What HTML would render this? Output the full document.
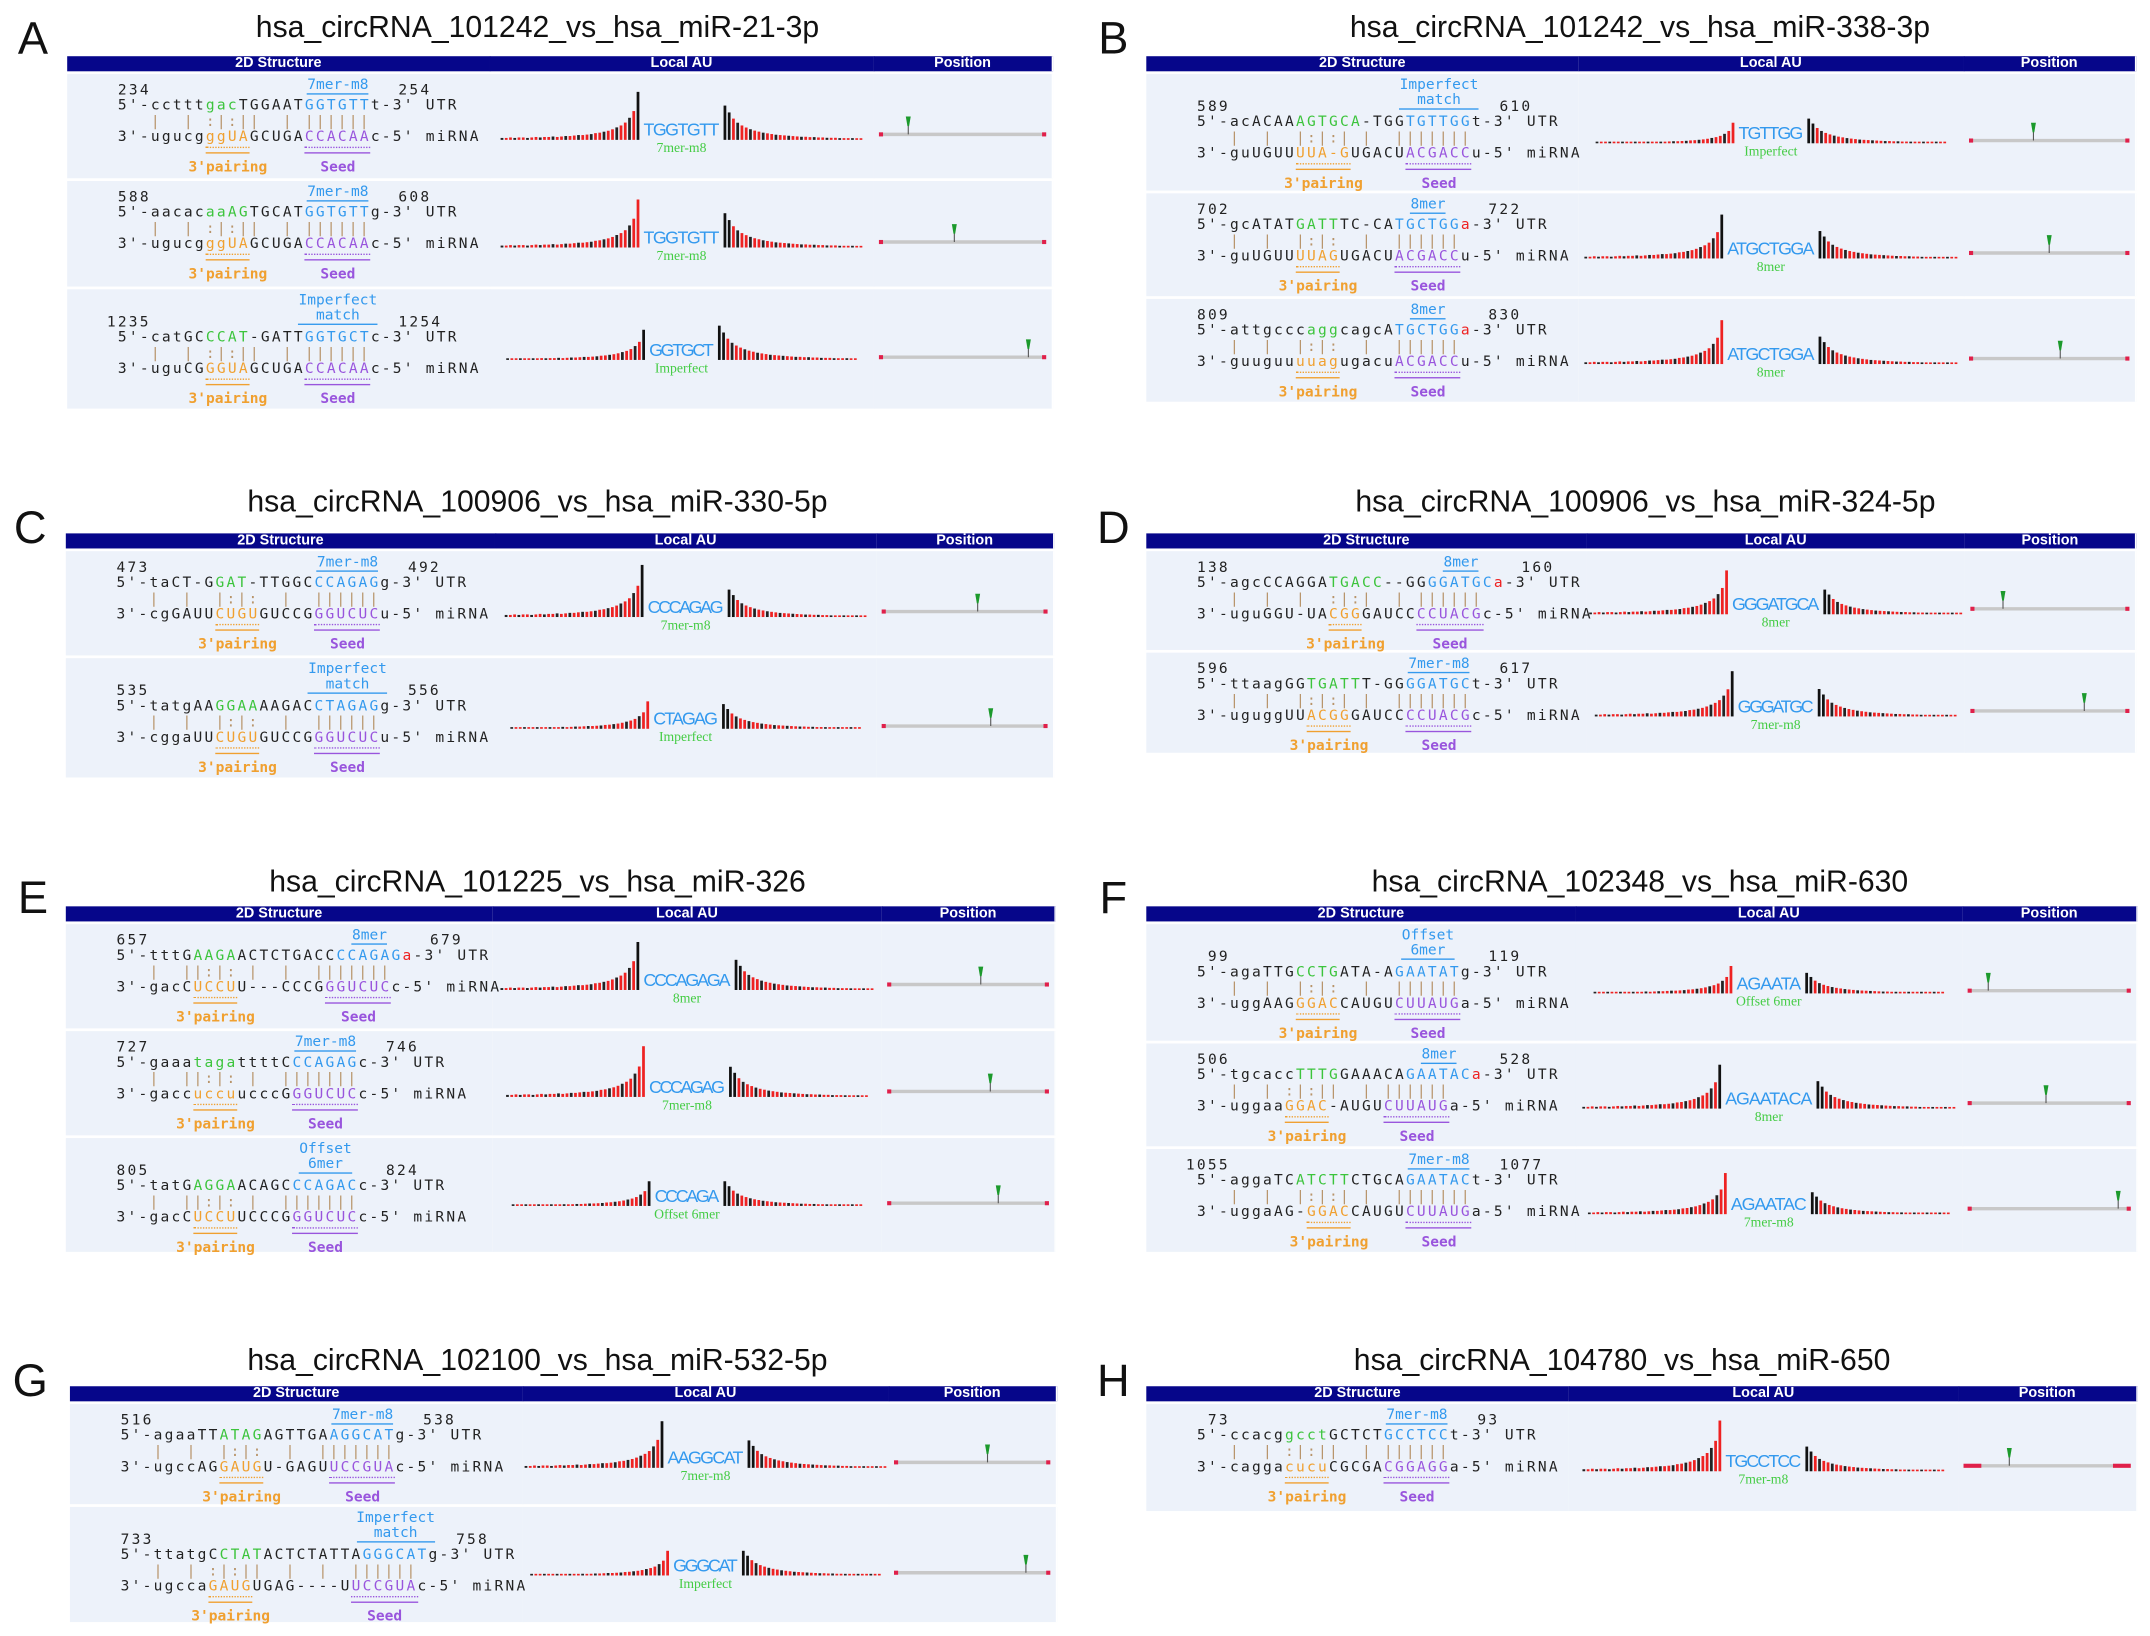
<!DOCTYPE html>
<html><head><meta charset="utf-8">
<style>
html,body{margin:0;padding:0;background:#fff;width:2150px;height:1636px;overflow:hidden}
#root{position:absolute;left:0;top:0;width:1568px;height:1193px;transform:scale(1.37117);transform-origin:0 0}
.abs{position:absolute}
.title{font-family:"Liberation Sans",sans-serif;font-size:22px;color:#111;white-space:nowrap;transform:translate(-50%,-50%)}
.letter{font-family:"Liberation Sans",sans-serif;font-size:33px;color:#111;transform:translate(-50%,-50%)}
.hdr{background:#06068a;color:#fff;font-family:"Liberation Sans",sans-serif;font-weight:bold;font-size:10.5px;text-align:center;line-height:11px;height:11px;border-right:1px solid #fff;box-sizing:border-box}
.cell{background:#edf2fa;border-right:1px solid #fff;box-sizing:border-box}
.seq{font-family:"DejaVu Sans Mono","Liberation Mono",monospace;font-size:10.6px;letter-spacing:1.64px;white-space:pre;color:#222;line-height:11px}
.lbl{font-family:"DejaVu Sans Mono",monospace;font-size:10.6px;white-space:pre;line-height:11px;transform:translateX(-50%);font-weight:bold}
.g{color:#3cc43c}.b{color:#3399ee}.o{color:#f0a030}.p{color:#9955dd}.r{color:#ee2222}
</style></head><body>
<div id="root"></div>
<script>
// ---- data ----
const panelLetters=["A","B","C","D","E","F","G","H"];
const panelTitles=["hsa_circRNA_101242_vs_hsa_miR-21-3p","hsa_circRNA_101242_vs_hsa_miR-338-3p","hsa_circRNA_100906_vs_hsa_miR-330-5p","hsa_circRNA_100906_vs_hsa_miR-324-5p","hsa_circRNA_101225_vs_hsa_miR-326","hsa_circRNA_102348_vs_hsa_miR-630","hsa_circRNA_102100_vs_hsa_miR-532-5p","hsa_circRNA_104780_vs_hsa_miR-650"];
const siteStart=[[234,588,1235],[589,702,809],[473,535],[138,596],[657,727,805],[99,506,1055],[516,733],[73]];
const siteEnd=[[254,608,1254],[610,722,830],[492,556],[160,617],[679,746,824],[119,528,1077],[538,758],[93]];
const siteType=[["7mer-m8","7mer-m8","Imperfect match"],["Imperfect match","8mer","8mer"],["7mer-m8","Imperfect match"],["8mer","7mer-m8"],["8mer","7mer-m8","Offset 6mer"],["Offset 6mer","8mer","7mer-m8"],["7mer-m8","Imperfect match"],["7mer-m8"]];
const utrSeq=[["5'-ccttt[g:gac]TGGAAT[b:GGTGTT]t-3' UTR","5'-aacac[g:aaAG]TGCAT[b:GGTGTT]g-3' UTR","5'-catGC[g:CCAT]-GATT[b:GGTGCT]c-3' UTR"],
["5'-acACAA[g:AGTGCA]-TGG[b:TGTTGG]t-3' UTR","5'-gcATAT[g:GATT]TC-CA[b:TGCTGG][r:a]-3' UTR","5'-attgccc[g:agg]cagcA[b:TGCTGG][r:a]-3' UTR"],
["5'-taCT-G[g:GAT]-TTGGC[b:CCAGAG]g-3' UTR","5'-tatgAA[g:GGAA]AAGAC[b:CTAGAG]g-3' UTR"],
["5'-agcCCAGGA[g:TGACC]--GG[b:GGATGC][r:a]-3' UTR","5'-ttaagGG[g:TGATT]T-GG[b:GGATGC]t-3' UTR"],
["5'-tttG[g:AAGA]ACTCTGACC[b:CCAGAG][r:a]-3' UTR","5'-gaaa[g:taga]ttttC[b:CCAGAG]c-3' UTR","5'-tatG[g:AGGA]ACAGC[b:CCAGAC]c-3' UTR"],
["5'-agaTTG[g:CCTG]ATA-A[b:GAATAT]g-3' UTR","5'-tgcacc[g:TTTG]GAAACA[b:GAATAC][r:a]-3' UTR","5'-aggaTC[g:ATCTT]CTGCA[b:GAATAC]t-3' UTR"],
["5'-agaaTT[g:ATAG]AGTTGA[b:AGGCAT]g-3' UTR","5'-ttatgC[g:CTAT]ACTCTATTA[b:GGGCAT]g-3' UTR"],
["5'-ccacg[g:gcct]GCTCT[b:GCCTCC]t-3' UTR"]];
const mirSeq=[["3'-ugucg[o:ggUA]GCUGA[p:CCACAA]c-5' miRNA","3'-ugucg[o:ggUA]GCUGA[p:CCACAA]c-5' miRNA","3'-uguCG[o:GGUA]GCUGA[p:CCACAA]c-5' miRNA"],
["3'-guUGUU[o:UUA-G]UGACU[p:ACGACC]u-5' miRNA","3'-guUGUU[o:UUAG]UGACU[p:ACGACC]u-5' miRNA","3'-guuguu[o:uuag]ugacu[p:ACGACC]u-5' miRNA"],
["3'-cgGAUU[o:CUGU]GUCCG[p:GGUCUC]u-5' miRNA","3'-cggaUU[o:CUGU]GUCCG[p:GGUCUC]u-5' miRNA"],
["3'-uguGGU-UA[o:CGG]GAUCC[p:CCUACG]c-5' miRNA","3'-uguggUU[o:ACGG]GAUCC[p:CCUACG]c-5' miRNA"],
["3'-gacC[o:UCCU]U---CCCG[p:GGUCUC]c-5' miRNA","3'-gacc[o:uccu]ucccG[p:GGUCUC]c-5' miRNA","3'-gacC[o:UCCU]UCCCG[p:GGUCUC]c-5' miRNA"],
["3'-uggAAG[o:GGAC]CAUGU[p:CUUAUG]a-5' miRNA","3'-uggaa[o:GGAC]-AUGU[p:CUUAUG]a-5' miRNA","3'-uggaAG-[o:GGAC]CAUGU[p:CUUAUG]a-5' miRNA"],
["3'-ugccAG[o:GAUG]U-GAGU[p:UCCGUA]c-5' miRNA","3'-ugcca[o:GAUG]UGAG----U[p:UCCGUA]c-5' miRNA"],
["3'-cagga[o:cucu]CGCGA[p:CGGAGG]a-5' miRNA"]];
const seedText=[["TGGTGTT","TGGTGTT","GGTGCT"],["TGTTGG","ATGCTGGA","ATGCTGGA"],["CCCAGAG","CTAGAG"],["GGGATGCA","GGGATGC"],["CCCAGAGA","CCCAGAG","CCCAGA"],["AGAATA","AGAATACA","AGAATAC"],["AAGGCAT","GGGCAT"],["TGCCTCC"]];
const auType=[["7mer-m8","7mer-m8","Imperfect"],["Imperfect","8mer","8mer"],["7mer-m8","Imperfect"],["8mer","7mer-m8"],["8mer","7mer-m8","Offset 6mer"],["Offset 6mer","8mer","7mer-m8"],["7mer-m8","Imperfect"],["7mer-m8"]];
const leftPeak=[[35,35,22],[15,32,32],[38,20],[32,33],[35,37,18],[20,32,30],[34,18],[37]];
const rightPeak=[[25,25,25],[18,20,20],[20,18],[18,20],[22,22,18],[15,20,16],[20,18],[18]];
const sitePos=[[0.17,0.45,0.9],[0.4,0.5,0.57],[0.58,0.66],[0.2,0.72],[0.58,0.64,0.69],[0.12,0.48,0.93],[0.6,0.85],[0.27]];
const leftShape=[.04,.04,.05,.04,.05,.05,.04,.05,.06,.05,.06,.06,.07,.06,.07,.08,.08,.09,.1,.1,.11,.12,.14,.15,.17,.19,.22,.26,.3,.36,.46,.6,1];
const rightShape=[1,.8,.62,.5,.42,.36,.31,.27,.24,.21,.19,.17,.15,.14,.13,.12,.11,.1,.09,.09,.08,.08,.07,.07,.06,.06,.06,.05,.05,.05,.05,.04,.04];
const L=[
 {lx:24,ly:28,tx:392,ty:20,x0:49,x1:767,hy:41,c:[357,637],rows:[[54,130],[132,209],[211,298]]},
 {lx:812,ly:28,tx:1196,ty:20,x0:836,x1:1557,hy:41,c:[1151,1432],rows:[[54,139],[141,216],[218,293]]},
 {lx:22,ly:385,tx:392,ty:366,x0:48,x1:768,hy:389,c:[361,639],rows:[[402,478],[480,567]]},
 {lx:812,ly:385,tx:1200,ty:366,x0:836,x1:1557,hy:389,c:[1157,1433],rows:[[402,474],[476,549]]},
 {lx:24,ly:655,tx:392,ty:643,x0:48,x1:769,hy:661,c:[359,643],rows:[[674,750],[752,828],[830,913]]},
 {lx:812,ly:655,tx:1196,ty:643,x0:836,x1:1558,hy:661,c:[1149,1431],rows:[[674,759],[761,836],[838,913]]},
 {lx:22,ly:1007,tx:392,ty:992,x0:51,x1:770,hy:1011,c:[381,648],rows:[[1024,1097],[1099,1183]]},
 {lx:812,ly:1007,tx:1183,ty:992,x0:836,x1:1558,hy:1011,c:[1144,1428],rows:[[1024,1102]]}
];
const root=document.getElementById('root');
function mk(tag,cls,css,parent){const e=document.createElement(tag);if(cls)e.className=cls;if(css)e.style.cssText=css;(parent||root).appendChild(e);return e;}
const CW=8.02;
function parse(s){let idx=0;const segs={};
 const re=/\[(\w):([^\]]*)\]/g;let last=0,m;let html='';
 while((m=re.exec(s))){html+=esc(s.slice(last,m.index));idx+=m.index-last;segs[m[1]]=[idx,idx+m[2].length];html+='<span class="'+m[1]+'">'+esc(m[2])+'</span>';idx+=m[2].length;last=re.lastIndex;}
 html+=esc(s.slice(last));return {html,segs};}
function esc(t){return t.replace(/&/g,'&amp;').replace(/</g,'&lt;');}
const SVGNS='http://www.w3.org/2000/svg';
function sv(tag,attrs,parent){const e=document.createElementNS(SVGNS,tag);for(const k in attrs)e.setAttribute(k,attrs[k]);parent.appendChild(e);return e;}

L.forEach((P,pi)=>{
 const let_=mk('div','abs letter','left:'+P.lx+'px;top:'+P.ly+'px');let_.textContent=panelLetters[pi];
 
 
 const t=mk('div','abs title','left:'+P.tx+'px;top:'+P.ty+'px');t.textContent=panelTitles[pi];
 
 
 const cx=[P.x0,P.c[0],P.c[1],P.x1];const hn=['2D Structure','Local AU','Position'];
 for(let k=0;k<3;k++){const h=mk('div','abs hdr','left:'+cx[k]+'px;top:'+P.hy+'px;width:'+(cx[k+1]-cx[k]+1)+'px');h.textContent=hn[k];
  
  }
 P.rows.forEach((R,ri)=>{
  const top=R[0],bot=R[1],H=bot-top;
  for(let k=0;k<3;k++){const c=mk('div','abs cell','left:'+cx[k]+'px;top:'+top+'px;width:'+(cx[k+1]-cx[k]+1)+'px;height:'+H+'px');
   
   }
  const type=siteType[pi][ri];const two=type.indexOf(' ')>0;const off=two?12:0;
  const sx=P.x0+37;
  const u=parse(utrSeq[pi][ri]),mi=parse(mirSeq[pi][ri]);
  const ul=mk('div','abs seq','left:'+sx+'px;top:'+(top+18+off)+'px');ul.innerHTML=u.html;
  
  
  const ml=mk('div','abs seq','left:'+sx+'px;top:'+(top+41+off)+'px');ml.innerHTML=mi.html;
  
  
  let bars='';const bs=u.segs.b,os=mi.segs.o,ps=mi.segs.p;
  const len=Math.max(bs[1],ps[1])+1;
  for(let i=0;i<len;i++){let ch=' ';if(i>=ps[0]&&i<ps[1])ch='|';else if(os&&i>=os[0]&&i<os[1])ch=(i%2?'|':':');else if(i>=3&&i<ps[0]&&i%3==0)ch='|';bars+=ch;}
  const bl=mk('div','abs seq','left:'+sx+'px;top:'+(top+30+off)+'px;color:#b8946a');bl.textContent=bars;
  
  
  const n1=mk('div','abs seq','left:'+(sx+24-String(siteStart[pi][ri]).length*CW)+'px;top:'+(top+7+off)+'px');n1.textContent=siteStart[pi][ri];
  
  
  const uLen=u.html.replace(/<[^>]+>/g,'').indexOf('-3');
  const n2=mk('div','abs seq','left:'+(sx+(uLen+1.5)*CW)+'px;top:'+(top+7+off)+'px');n2.textContent=siteEnd[pi][ri];
  
  
  const bc=sx+(bs[0]+bs[1])/2*CW;
  const tl=mk('div','abs lbl b','left:'+bc+'px;top:'+(top+3)+'px;text-align:center;border-bottom:1px solid #3399ee;font-weight:normal');tl.textContent=two?type.replace(' ','\n'):type;
  
  
  const oc=sx+(os[0]+os[1])/2*CW,pc=sx+(ps[0]+ps[1])/2*CW;
  const ou=mk('div','abs','left:'+(sx+os[0]*CW)+'px;top:'+(top+53+off)+'px;width:'+((os[1]-os[0])*CW)+'px;height:3px;border-bottom:1px solid #f0a030;border-top:1px dotted #f0a030');
  
  
  const pu=mk('div','abs','left:'+(sx+ps[0]*CW)+'px;top:'+(top+53+off)+'px;width:'+((ps[1]-ps[0])*CW)+'px;height:3px;border-bottom:1px solid #9955dd;border-top:1px dotted #9955dd');
  
  
  const ol=mk('div','abs lbl o','left:'+oc+'px;top:'+(top+63+off)+'px');ol.textContent="3'pairing";
  
  
  const pl=mk('div','abs lbl p','left:'+pc+'px;top:'+(top+63+off)+'px');pl.textContent="Seed";
  
  
  const aw=P.c[1]-P.c[0];const svg=sv('svg',{width:aw,height:H},mk('div','abs','left:'+P.c[0]+'px;top:'+top+'px'));
  
  
  const base=H/2+10+(two?-2:0);const mid=aw/2;const seed=seedText[pi][ri];const sw=seed.length*8.2;
  const step=3.1;
  leftShape.forEach((f,i)=>{const x=mid-sw/2-4-(leftShape.length-1-i)*step;const h=Math.max(1.2,f*leftPeak[pi][ri]);
   const col=(i===leftShape.length-1)?((pi+ri)%2?'#ee2222':'#111'):(i%3===0?'#222':'#ee2222');
   const r=sv('rect',{x:x,y:base-h,width:2,height:h,fill:col},svg);
   
   });
  rightShape.forEach((f,i)=>{const x=mid+sw/2+2+i*step;const h=Math.max(1.2,f*rightPeak[pi][ri]);
   const col=(i<2)?'#111':(i%3===0?'#222':'#ee2222');
   const r=sv('rect',{x:x,y:base-h,width:2,height:h,fill:col},svg);
   
   });
  const st=sv('text',{x:mid,y:base-3,'text-anchor':'middle','font-family':'Liberation Sans, sans-serif','font-size':13,fill:'#3399ee','textLength':sw-2},svg);st.textContent=seed;
  
  
  const tt=sv('text',{x:mid,y:base+9,'text-anchor':'middle','font-family':'Liberation Serif, serif','font-size':10,fill:'#44cc44'},svg);tt.textContent=auType[pi][ri];
  
  
  const pw=P.x1-P.c[1];const ps2=sv('svg',{width:pw,height:H},mk('div','abs','left:'+P.c[1]+'px;top:'+top+'px'));
  
  
  const py=H/2+6;const xa=5,xb=pw-5;
  sv('line',{x1:xa,y1:py,x2:xb,y2:py,stroke:'#c8c8c8','stroke-width':2.5},ps2);
  const thick=pi===7?4:0;
  sv('rect',{x:xa-1,y:py-1.5,width:3+thick*2.5,height:3,fill:'#e0204a'},ps2);
  sv('rect',{x:xb-2-thick*2.5,y:py-1.5,width:3+thick*2.5,height:3,fill:'#e0204a'},ps2);
  const mx=xa+sitePos[pi][ri]*(xb-xa);
  sv('line',{x1:mx,y1:py,x2:mx,y2:py-12,stroke:'#555','stroke-width':0.8},ps2);
  const mk2=sv('path',{d:'M'+(mx-1.8)+' '+(py-13)+' L'+(mx+1.8)+' '+(py-13)+' L'+(mx+0.6)+' '+(py-6)+' L'+(mx-0.6)+' '+(py-6)+'Z',fill:'#1c9a2c'},ps2);
  
  
 });
});
</script>
</body></html>
